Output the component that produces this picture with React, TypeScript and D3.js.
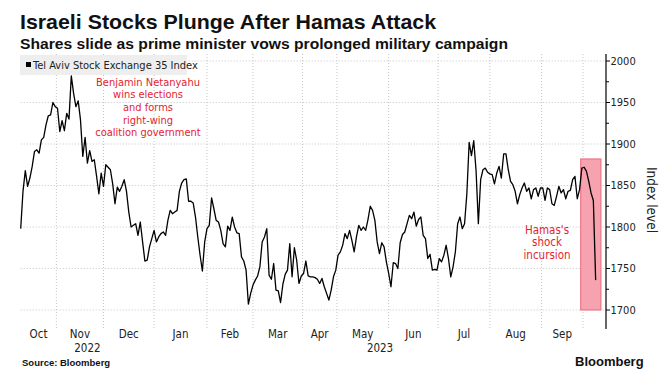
import React from "react";
import * as d3 from "d3";

const W = 667;
const H = 379;

// TA-35 index level, one value per trading day (Oct 2022 – Oct 9 2023)
const indexLevel = [
  1798, 1843, 1868, 1849, 1859, 1873, 1891, 1893, 1889, 1905, 1908, 1923, 1934, 1935, 1950, 1945, 1943, 1915, 1928, 1916,
  1937, 1930, 1982, 1961, 1945, 1952, 1929, 1885, 1908, 1877, 1892, 1879, 1881, 1861, 1840, 1865, 1849, 1875, 1872, 1869,
  1852, 1828, 1848, 1843, 1849, 1857, 1843, 1818, 1800, 1802, 1804, 1790, 1806, 1782, 1759, 1760, 1776, 1786, 1796, 1782,
  1788, 1792, 1794, 1790, 1808, 1820, 1816, 1818, 1820, 1843, 1853, 1857, 1858, 1831, 1831, 1829, 1812, 1788, 1766, 1747,
  1782, 1798, 1802, 1835, 1822, 1808, 1806, 1796, 1780, 1776, 1801, 1796, 1812, 1800, 1793, 1792, 1764, 1759, 1748, 1707,
  1720, 1730, 1736, 1741, 1752, 1782, 1788, 1798, 1742, 1737, 1756, 1724, 1723, 1709, 1731, 1743, 1748, 1780, 1740, 1775,
  1760, 1732, 1741, 1744, 1759, 1741, 1740, 1740, 1739, 1737, 1732, 1738, 1728, 1720, 1712, 1724, 1740, 1748, 1766, 1770,
  1778, 1792, 1786, 1796, 1784, 1770, 1788, 1802, 1796, 1800, 1796, 1809, 1825, 1820, 1808, 1782, 1768, 1781, 1776, 1758,
  1744, 1728, 1757, 1756, 1750, 1781, 1791, 1794, 1804, 1814, 1810, 1818, 1801, 1809, 1812, 1790, 1786, 1762, 1767, 1748,
  1749, 1748, 1762, 1758, 1766, 1778, 1762, 1740, 1752, 1770, 1804, 1812, 1798, 1804, 1840, 1902, 1886, 1904, 1868, 1804,
  1857, 1869, 1871, 1866, 1864, 1863, 1852, 1865, 1873, 1859, 1888, 1888, 1869, 1855, 1851, 1843, 1828, 1839, 1847, 1853,
  1843, 1847, 1834, 1845, 1847, 1837, 1847, 1847, 1832, 1847, 1845, 1828, 1826, 1837, 1849, 1841, 1845, 1834, 1843, 1844,
  1857, 1861, 1834, 1845, 1871, 1872, 1867, 1855, 1841, 1832, 1736,
];

const monthLabels = ["Oct", "Nov", "Dec", "Jan", "Feb", "Mar", "Apr", "May", "Jun", "Jul", "Aug", "Sep"];
// trading-day positions of month starts (last = Oct 2023)
const monthBounds = [0, 15.5, 36, 58, 81, 101, 122.5, 137.5, 160, 181.5, 204, 226.5, 244.5];
const yearLabels = ["2022", "2023"];
const yearBounds = [0, 58, 254.5];
const yTicks = [1700, 1750, 1800, 1850, 1900, 1950, 2000];
const yMinorTicks = [1725, 1775, 1825, 1875, 1925, 1975];
const shadeDays = [243.5, 252.3];
const shadeLevels = [1700, 1882];

const noteNetanyahu = ["Benjamin Netanyahu", "wins elections", "and forms", "right-wing", "coalition government"];
const noteHamas = ["Hamas's", "shock", "incursion"];

const FONT = "'Liberation Sans Narrow', 'DejaVu Sans Condensed', 'Liberation Sans', Arial, sans-serif";
const RED = "#e3232f";

export default function App() {
  const left = 20.7;
  const right = 606;
  const top = 54;
  const bottom = 329;

  const x = d3.scaleLinear().domain([0, 254.5]).range([left, right]);
  const y = d3.scaleLinear().domain([1700, 2000]).range([310, 61]);

  const line = d3
    .line<number>()
    .x((_, i) => x(i))
    .y((d) => y(d));

  return (
    <svg
      width={W}
      height={H}
      viewBox={`0 0 ${W} ${H}`}
      style={{ position: "absolute", left: 0, top: 0, display: "block", background: "#fff" }}
    >
      <rect x={0} y={0} width={W} height={H} fill="#fff" />
      {/* Titles */}
      <text x={20} y={29} fontFamily="'Liberation Sans', Arial, sans-serif" fontWeight="bold" fontSize={21} fill="#111" textLength={416} lengthAdjust="spacingAndGlyphs">
        Israeli Stocks Plunge After Hamas Attack
      </text>
      <text x={20} y={49} fontFamily="'Liberation Sans', Arial, sans-serif" fontWeight="bold" fontSize={14.5} fill="#111" textLength={488} lengthAdjust="spacingAndGlyphs">
        Shares slide as prime minister vows prolonged military campaign
      </text>

      {/* horizontal gridlines */}
      {yTicks.map((t) => (
        <line key={"h" + t} x1={left} x2={right} y1={y(t)} y2={y(t)} stroke="#c4c4c4" strokeDasharray="1,2" strokeWidth={1} />
      ))}
      {/* vertical month gridlines */}
      {monthBounds.slice(1).map((b, i) => (
        <line key={"v" + i} x1={x(b)} x2={x(b)} y1={top} y2={bottom} stroke="#c4c4c4" strokeDasharray="1,2" strokeWidth={1} />
      ))}

      {/* legend box */}
      <rect x={20} y={55} width={167} height={20} fill="#eeeeee" />
      <rect x={26} y={62} width={5} height={5} fill="#000" />
      <text x={33} y={69} fontFamily={FONT} fontSize={11} fill="#222">
        Tel Aviv Stock Exchange 35 Index
      </text>

      {/* shaded attack period */}
      <rect
        x={x(shadeDays[0])}
        y={y(shadeLevels[1])}
        width={x(shadeDays[1]) - x(shadeDays[0])}
        height={y(shadeLevels[0]) - y(shadeLevels[1])}
        fill="#f7a3af"
        stroke="#e8687a"
        strokeWidth={1}
      />

      {/* series */}
      <path d={line(indexLevel) || ""} fill="none" stroke="#000" strokeWidth={1.3} strokeLinejoin="round" />

      {/* annotations */}
      {noteNetanyahu.map((t, i) => (
        <text key={"n" + i} x={148} y={85.5 + i * 12.7} textAnchor="middle" fontFamily={FONT} fontSize={11} fill={RED}>
          {t}
        </text>
      ))}
      {noteHamas.map((t, i) => (
        <text key={"hm" + i} x={547} y={233.5 + i * 12.8} textAnchor="middle" fontFamily={FONT} fontSize={11.5} fill={RED}>
          {t}
        </text>
      ))}

      {/* right axis */}
      <line x1={right} x2={right} y1={top} y2={bottom} stroke="#000" strokeWidth={1.2} />
      {yTicks.map((t) => (
        <g key={"t" + t}>
          <line x1={right} x2={right + 4} y1={y(t)} y2={y(t)} stroke="#000" />
          <text x={right + 4.5} y={y(t) + 3.8} fontFamily={FONT} fontSize={11} fill="#222">
            {t}
          </text>
        </g>
      ))}
      {yMinorTicks.map((t) => (
        <line key={"m" + t} x1={right} x2={right + 3} y1={y(t)} y2={y(t)} stroke="#000" />
      ))}
      <text
        transform={`translate(647, 200) rotate(90)`}
        textAnchor="middle"
        fontFamily={FONT}
        fontSize={13.5}
        fill="#222"
      >
        Index level
      </text>

      {/* month labels */}
      {monthLabels.map((m, i) => (
        <text
          key={"ml" + m}
          x={x((monthBounds[i] + monthBounds[i + 1]) / 2)}
          y={338}
          textAnchor="middle"
          fontFamily={FONT}
          fontSize={11.5}
          fill="#222"
        >
          {m}
        </text>
      ))}
      {yearLabels.map((yl, i) => (
        <text
          key={"yl" + yl}
          x={x((yearBounds[i] + yearBounds[i + 1]) / 2)}
          y={352}
          textAnchor="middle"
          fontFamily={FONT}
          fontSize={11.5}
          fill="#222"
        >
          {yl}
        </text>
      ))}

      {/* footer */}
      <text x={22} y={366} fontFamily="'Liberation Sans', Arial, sans-serif" fontWeight="bold" fontSize={9.5} fill="#111">
        Source: Bloomberg
      </text>
      <text x={575} y={366} fontFamily="'Liberation Sans', Arial, sans-serif" fontWeight="bold" fontSize={13} fill="#111">
        Bloomberg
      </text>
    </svg>
  );
}
